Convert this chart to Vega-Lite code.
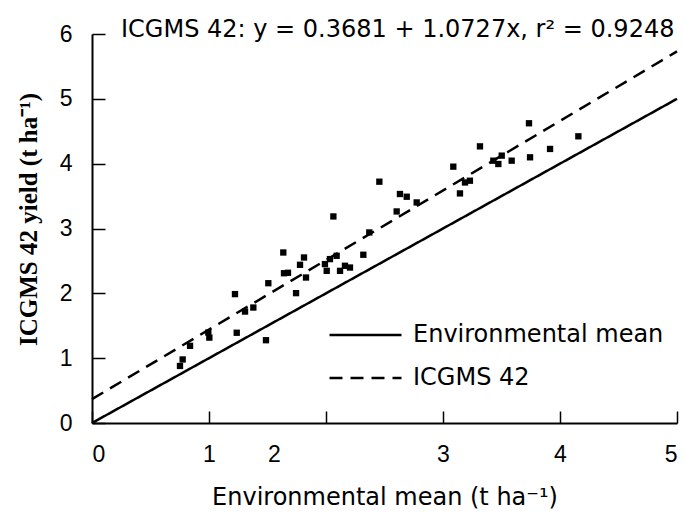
{
  "$schema": "https://vega.github.io/schema/vega-lite/v6.json",
  "width": 585,
  "height": 389,
  "autosize": "none",
  "padding": {"left": 92, "top": 34, "right": 9, "bottom": 90},
  "background": "white",
  "title": {
    "text": "ICGMS 42: y = 0.3681 + 1.0727x, r² = 0.9248",
    "anchor": "start",
    "frame": "group",
    "font": "DejaVu Sans",
    "fontSize": 24,
    "fontWeight": "normal",
    "color": "black",
    "baseline": "alphabetic",
    "dx": 29,
    "dy": 38,
    "offset": 0
  },
  "config": {
    "view": {"stroke": null},
    "axis": {
      "grid": false,
      "domainColor": "black",
      "domainWidth": 2,
      "tickColor": "black",
      "tickWidth": 1.5,
      "labelColor": "black",
      "labelFont": "Liberation Sans",
      "labelFontSize": 23,
      "titleColor": "black"
    }
  },
  "datasets": {
    "pts": [
      {"x": 0.752, "y": 0.88}, {"x": 0.775, "y": 0.98}, {"x": 0.838, "y": 1.19},
      {"x": 0.994, "y": 1.395}, {"x": 1.003, "y": 1.317}, {"x": 1.222, "y": 1.988},
      {"x": 1.237, "y": 1.392}, {"x": 1.308, "y": 1.719}, {"x": 1.379, "y": 1.781},
      {"x": 1.487, "y": 1.277}, {"x": 1.507, "y": 2.156}, {"x": 1.635, "y": 2.63},
      {"x": 1.641, "y": 2.31}, {"x": 1.675, "y": 2.317}, {"x": 1.744, "y": 2.003},
      {"x": 1.778, "y": 2.44}, {"x": 1.812, "y": 2.553}, {"x": 1.829, "y": 2.244},
      {"x": 1.991, "y": 2.451}, {"x": 2.006, "y": 2.347}, {"x": 2.034, "y": 2.528},
      {"x": 2.063, "y": 3.186}, {"x": 2.091, "y": 2.579}, {"x": 2.12, "y": 2.347},
      {"x": 2.162, "y": 2.425}, {"x": 2.205, "y": 2.398}, {"x": 2.319, "y": 2.595},
      {"x": 2.37, "y": 2.939}, {"x": 2.456, "y": 3.722}, {"x": 2.604, "y": 3.263},
      {"x": 2.632, "y": 3.532}, {"x": 2.69, "y": 3.49}, {"x": 2.775, "y": 3.402},
      {"x": 3.088, "y": 3.954}, {"x": 3.145, "y": 3.541}, {"x": 3.188, "y": 3.71},
      {"x": 3.23, "y": 3.737}, {"x": 3.316, "y": 4.267}, {"x": 3.43, "y": 4.046},
      {"x": 3.473, "y": 3.995}, {"x": 3.502, "y": 4.124}, {"x": 3.587, "y": 4.046},
      {"x": 3.735, "y": 4.623}, {"x": 3.744, "y": 4.098}, {"x": 3.915, "y": 4.227},
      {"x": 4.157, "y": 4.422}
    ],
    "lines": [
      {"series": "Environmental mean", "x": 0, "y": 0},
      {"series": "Environmental mean", "x": 5, "y": 5},
      {"series": "ICGMS 42", "x": 0, "y": 0.3681},
      {"series": "ICGMS 42", "x": 5, "y": 5.7316}
    ]
  },
  "layer": [
    {
      "data": {"name": "lines"},
      "mark": {"type": "line", "color": "black", "strokeWidth": 2.5},
      "encoding": {
        "x": {
          "field": "x", "type": "quantitative",
          "scale": {"domain": [0, 5], "nice": false},
          "axis": {
            "values": [0, 1, 2, 3, 4, 5],
            "format": "d",
            "tickSize": -12,
            "labelPadding": 32,
            "labelOffset": {"condition": {"test": "datum.value == 2", "value": -52}, "value": 0},
            "title": "Environmental mean (t ha⁻¹)",
            "titleFont": "DejaVu Sans",
            "titleFontSize": 24,
            "titleFontWeight": "normal",
            "titlePadding": 19
          }
        },
        "y": {
          "field": "y", "type": "quantitative",
          "scale": {"domain": [0, 6], "nice": false},
          "axis": {
            "values": [0, 1, 2, 3, 4, 5, 6],
            "format": "d",
            "tickSize": -13,
            "labelPadding": 33,
            "title": "ICGMS 42 yield (t ha⁻¹)",
            "titleFont": "Liberation Serif",
            "titleFontSize": 25,
            "titleFontWeight": "bold",
            "titlePadding": 18,
            "titleY": 185
          }
        },
        "strokeDash": {
          "field": "series", "type": "nominal",
          "scale": {"domain": ["Environmental mean", "ICGMS 42"], "range": [[1, 0], [13, 8]]},
          "legend": {
            "title": null,
            "orient": "none",
            "legendX": 236,
            "legendY": 288,
            "padding": 0,
            "clipHeight": 26,
            "rowPadding": 17,
            "symbolSize": 5184,
            "symbolStrokeWidth": 2.5,
            "symbolStrokeColor": "black",
            "labelFont": "DejaVu Sans",
            "labelFontSize": 24,
            "labelColor": "black",
            "labelOffset": 10,
            "labelLimit": 400
          }
        }
      }
    },
    {
      "data": {"name": "pts"},
      "mark": {"type": "square", "size": 40, "filled": true, "color": "black", "opacity": 1},
      "encoding": {
        "x": {"field": "x", "type": "quantitative"},
        "y": {"field": "y", "type": "quantitative"}
      }
    }
  ]
}
